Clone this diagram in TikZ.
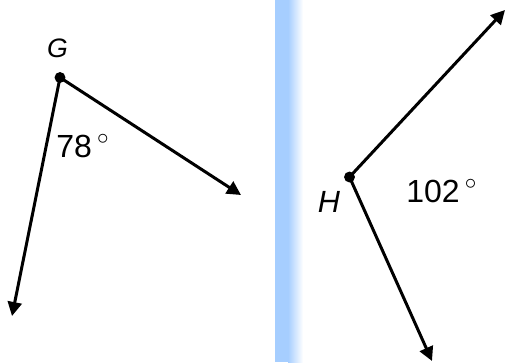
\documentclass[tikz,border=0pt]{standalone}
\usepackage{fontspec}
\setmainfont{Liberation Sans}
\usetikzlibrary{arrows.meta}

\definecolor{bandblue}{RGB}{166,206,255}

\tikzset{
  ray/.style={line width=2.25pt, -{Triangle[length=10.5pt,width=10.5pt]}},
  vertexdot/.style={circle, fill=black, inner sep=0pt, minimum size=8.2pt},
  anglelabel/.style={anchor=base west, inner sep=0pt, font=\fontsize{24}{28}\selectfont},
  pointlabel/.style={anchor=base, inner sep=0pt}
}

\begin{document}
\begin{tikzpicture}[x=0.75pt,y=-0.75pt]
\useasboundingbox (0,0) rectangle (506,362);

% separating band
\fill[bandblue] (275,0) rectangle (288,362);
\shade[left color=bandblue, right color=white] (288,0) rectangle (303,362);

% angle G
\node[vertexdot] (G) at (60,77.5) {};
\coordinate (G1) at (12,316);
\coordinate (G2) at (241,195);
\draw[ray] (G.center) -- (G1);
\draw[ray] (G.center) -- (G2);
\node[pointlabel, font=\fontsize{20}{24}\selectfont\itshape] (Glabel) at (57.5,57) {G};
\node[anglelabel] (Gangle) at (56,157) {78\,$^{\circ}$};

% angle H
\node[vertexdot] (H) at (349.5,177) {};
\coordinate (H1) at (505,10);
\coordinate (H2) at (432,361);
\draw[ray] (H.center) -- (H1);
\draw[ray] (H.center) -- (H2);
\node[pointlabel, font=\fontsize{23}{27}\selectfont\itshape] (Hlabel) at (329,212) {H};
\node[anglelabel] (Hangle) at (406,202) {102\,$^{\circ}$};
\end{tikzpicture}
\end{document}
